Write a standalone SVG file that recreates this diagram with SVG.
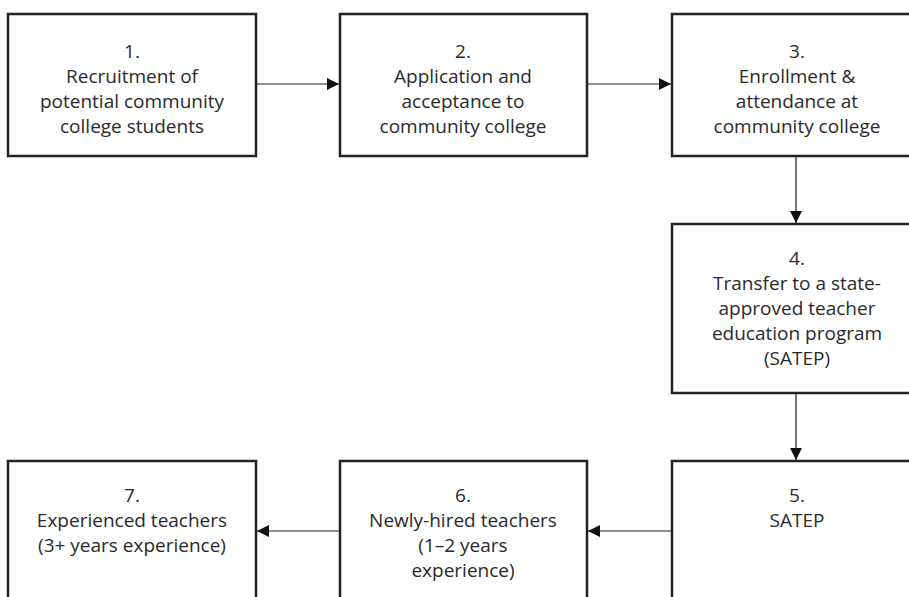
<svg xmlns="http://www.w3.org/2000/svg" width="909" height="597" viewBox="0 0 909 597">
<defs>
<style>
.box{fill:#fff;stroke:#222;stroke-width:2.5}
.lbl{font-family:"Open Sans","Liberation Sans",sans-serif;font-size:19px;fill:#2a2a2a;text-anchor:middle}
.con{stroke:#222;stroke-width:1.2;fill:none}
</style>
<marker id="ah" markerWidth="12" markerHeight="12" viewBox="0 0 12 12" refX="12" refY="6" orient="auto" markerUnits="userSpaceOnUse">
<path d="M0,0 L12,6 L0,12 Z" fill="#111"/>
</marker>
</defs>
<rect width="909" height="597" fill="#fff"/>
<g id="connectors">
<line class="con" x1="256" y1="84" x2="339" y2="84" marker-end="url(#ah)"/>
<line class="con" x1="587" y1="84" x2="671" y2="84" marker-end="url(#ah)"/>
<line class="con" x1="796" y1="156" x2="796" y2="223" marker-end="url(#ah)"/>
<line class="con" x1="796" y1="393" x2="796" y2="460" marker-end="url(#ah)"/>
<line class="con" x1="672" y1="531" x2="588" y2="531" marker-end="url(#ah)"/>
<line class="con" x1="340" y1="531" x2="257" y2="531" marker-end="url(#ah)"/>
</g>
<g id="n1">
<rect class="box" x="8" y="14" width="248" height="142"/>
<text class="lbl" x="132" y="58">1.</text>
<text class="lbl" x="132" y="83">Recruitment of</text>
<text class="lbl" x="132" y="108">potential community</text>
<text class="lbl" x="132" y="133">college students</text>
</g>
<g id="n2">
<rect class="box" x="340" y="14" width="247" height="142"/>
<text class="lbl" x="463" y="58">2.</text>
<text class="lbl" x="463" y="83">Application and</text>
<text class="lbl" x="463" y="108">acceptance to</text>
<text class="lbl" x="463" y="133">community college</text>
</g>
<g id="n3">
<rect class="box" x="672" y="14" width="250" height="142"/>
<text class="lbl" x="797" y="58">3.</text>
<text class="lbl" x="797" y="83">Enrollment &amp;</text>
<text class="lbl" x="797" y="108">attendance at</text>
<text class="lbl" x="797" y="133">community college</text>
</g>
<g id="n4">
<rect class="box" x="672" y="224" width="250" height="169"/>
<text class="lbl" x="797" y="265">4.</text>
<text class="lbl" x="797" y="290">Transfer to a state-</text>
<text class="lbl" x="797" y="315">approved teacher</text>
<text class="lbl" x="797" y="340">education program</text>
<text class="lbl" x="797" y="365">(SATEP)</text>
</g>
<g id="n5">
<rect class="box" x="672" y="461" width="250" height="150"/>
<text class="lbl" x="797" y="502">5.</text>
<text class="lbl" x="797" y="527">SATEP</text>
</g>
<g id="n6">
<rect class="box" x="340" y="461" width="247" height="150"/>
<text class="lbl" x="463" y="502">6.</text>
<text class="lbl" x="463" y="527">Newly-hired teachers</text>
<text class="lbl" x="463" y="552">(1–2 years</text>
<text class="lbl" x="463" y="577">experience)</text>
</g>
<g id="n7">
<rect class="box" x="8" y="461" width="248" height="150"/>
<text class="lbl" x="132" y="502">7.</text>
<text class="lbl" x="132" y="527">Experienced teachers</text>
<text class="lbl" x="132" y="552">(3+ years experience)</text>
</g>
</svg>
